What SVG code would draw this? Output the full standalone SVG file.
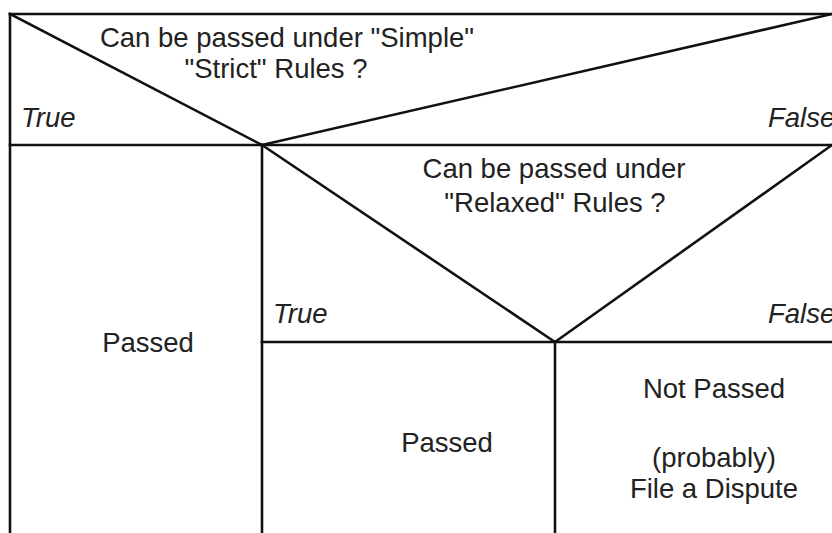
<svg xmlns="http://www.w3.org/2000/svg" width="832" height="533" viewBox="0 0 832 533">
  <style>
    .ln { stroke: #111; stroke-width: 2.6; fill: none; stroke-linecap: square; }
    .t { font-family: "Liberation Sans", Arial, sans-serif; font-size: 27.5px; fill: #222; }
    .c { text-anchor: middle; }
    .i { font-style: italic; }
  </style>
  <rect width="832" height="533" fill="#fff"/>
  <g id="connectors">
    <!-- outer frame -->
    <line class="ln" x1="10" y1="14" x2="832" y2="14"/>
    <line class="ln" x1="10" y1="14" x2="10" y2="533"/>
    <!-- first decision -->
    <line class="ln" x1="10" y1="145" x2="832" y2="145"/>
    <line class="ln" x1="10" y1="14" x2="262" y2="145"/>
    <line class="ln" x1="262" y1="145" x2="832" y2="14"/>
    <line class="ln" x1="262" y1="145" x2="262" y2="533"/>
    <!-- second decision -->
    <line class="ln" x1="262" y1="342" x2="832" y2="342"/>
    <line class="ln" x1="262" y1="145" x2="555" y2="342"/>
    <line class="ln" x1="555" y1="342" x2="832" y2="145"/>
    <line class="ln" x1="555" y1="342" x2="555" y2="533"/>
  </g>
  <g id="decision-simple">
    <text class="t c" x="287" y="47">Can be passed under "Simple"</text>
    <text class="t c" x="276" y="78">"Strict" Rules ?</text>
    <text class="t i" x="21" y="127">True</text>
    <text class="t i" x="768" y="127">False</text>
  </g>
  <g id="passed-strict">
    <text class="t c" x="148" y="352">Passed</text>
  </g>
  <g id="decision-relaxed">
    <text class="t c" x="554" y="178">Can be passed under</text>
    <text class="t c" x="555" y="212">"Relaxed" Rules ?</text>
    <text class="t i" x="273" y="323">True</text>
    <text class="t i" x="768" y="323">False</text>
  </g>
  <g id="passed-relaxed">
    <text class="t c" x="447" y="452">Passed</text>
  </g>
  <g id="not-passed">
    <text class="t c" x="714" y="398">Not Passed</text>
    <text class="t c" x="714" y="467">(probably)</text>
    <text class="t c" x="714" y="498">File a Dispute</text>
  </g>
</svg>
